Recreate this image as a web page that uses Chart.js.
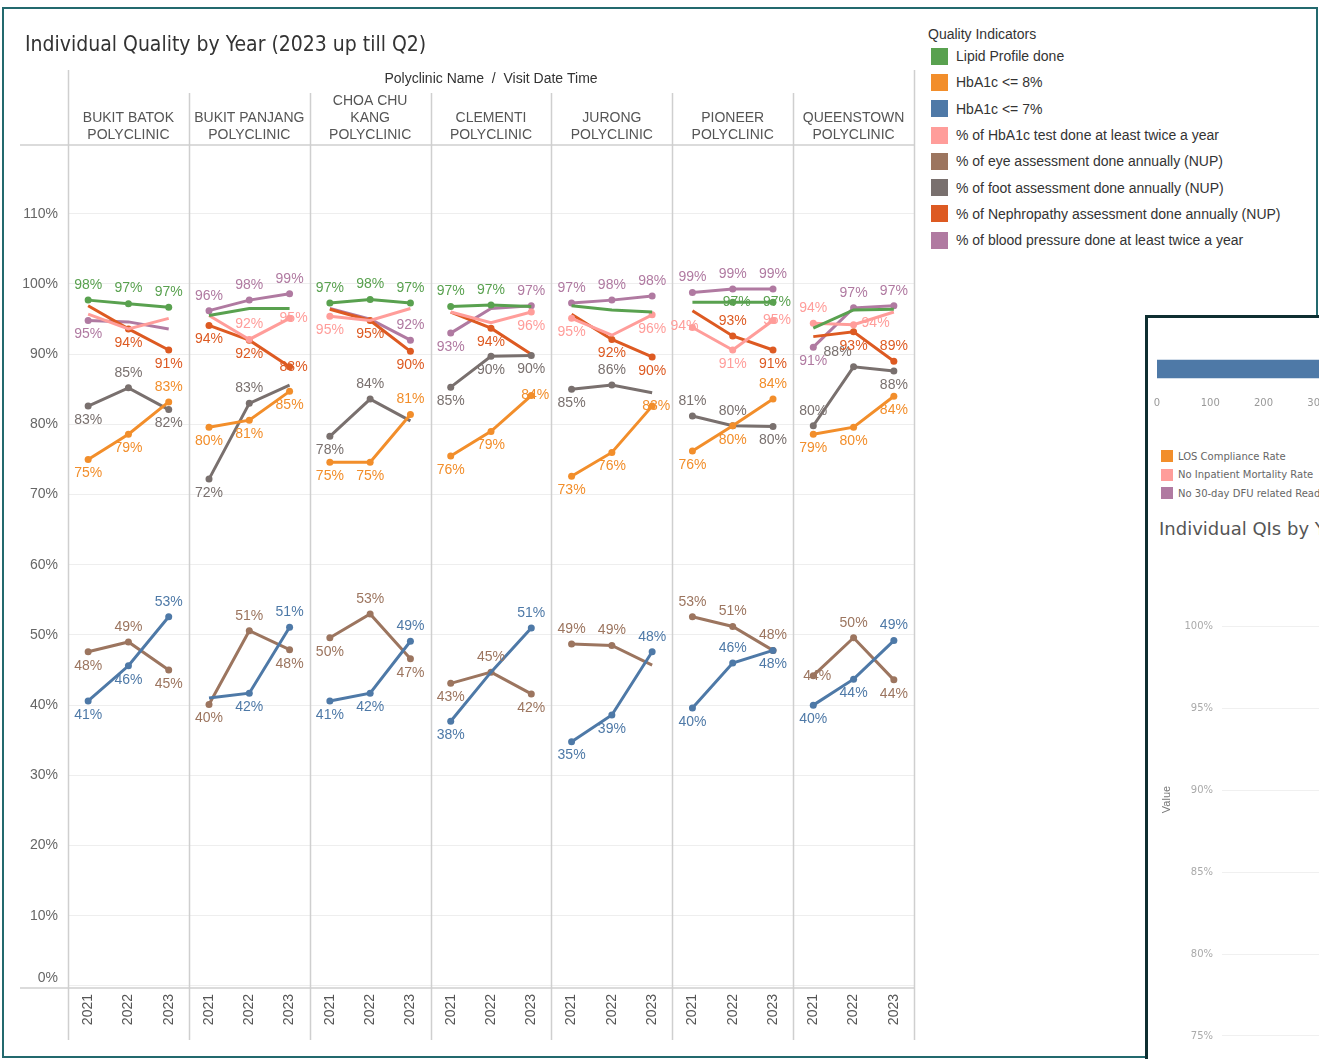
<!DOCTYPE html>
<html>
<head>
<meta charset="utf-8">
<title>Individual Quality by Year</title>
<script src="https://cdn.jsdelivr.net/npm/chart.js@4.4.0/dist/chart.umd.min.js"></script>
<style>
  body { margin: 0; width: 1319px; height: 1059px; overflow: hidden; background: #fff; position: relative;
         font-family: 'Liberation Sans', Arial, sans-serif; }
  #frame { position: absolute; left: 2px; top: 7px; width: 1312px; height: 1047px; border: 2px solid #23696e; }
  #qiChart { position: absolute; left: 0; top: 0; }
  #title { position: absolute; left: 25px; top: 32px; font-family: 'Liberation Sans Narrow', 'DejaVu Sans Condensed', sans-serif;
           font-size: 21px; color: #333; white-space: nowrap; }
  #legend { position: absolute; left: 928px; top: 25px; font-size: 14px; color: #333; }
  #legend .head { height: 18px; line-height: 18px; }
  #legend .item { height: 26.3px; display: flex; align-items: center; white-space: nowrap; }
  #legend .sw { width: 17px; height: 17px; margin: 0 8px 0 3px; }
  #other { position: absolute; left: 1145px; top: 315px; width: 400px; height: 800px; border: 3px solid #0e2f31;
           background: #fff; overflow: hidden; }
  #other canvas { position: absolute; left: 0; }
  #otherLegend { position: absolute; left: 13px; top: 129px; font-family: 'DejaVu Sans', sans-serif; font-size: 10px; color: #666; }
  #otherLegend .item { height: 18.5px; display: flex; align-items: center; white-space: nowrap; }
  #otherLegend .sw { width: 12px; height: 12px; margin-right: 5px; }
  #otherTitle { position: absolute; left: 11px; top: 200px; font-family: 'DejaVu Sans', sans-serif; font-size: 18px; color: #555; white-space: nowrap; }
</style>
</head>
<body>
<div id="frame"></div>
<canvas id="qiChart" width="920" height="1059"></canvas>
<div id="title">Individual Quality by Year (2023 up till Q2)</div>
<div id="legend"></div>
<div id="other">
  <canvas id="countChart" width="500" height="115" style="top:0"></canvas>
  <div id="otherLegend"></div>
  <div id="otherTitle">Individual QIs by Year</div>
  <canvas id="qiYearChart" width="500" height="519" style="top:222px"></canvas>
</div>

<script>
// polyclinic columns, each split into header lines
var clinics = [
  ['BUKIT BATOK', 'POLYCLINIC'],
  ['BUKIT PANJANG', 'POLYCLINIC'],
  ['CHOA CHU', 'KANG', 'POLYCLINIC'],
  ['CLEMENTI', 'POLYCLINIC'],
  ['JURONG', 'POLYCLINIC'],
  ['PIONEER', 'POLYCLINIC'],
  ['QUEENSTOWN', 'POLYCLINIC']
];
var years = ['2021', '2022', '2023'];
var yTicks = [0, 10, 20, 30, 40, 50, 60, 70, 80, 90, 100, 110];

var seriesNames = [
  'Lipid Profile done',
  'HbA1c <= 8%',
  'HbA1c <= 7%',
  '% of HbA1c test done at least twice a year',
  '% of eye assessment done annually (NUP)',
  '% of foot assessment done annually (NUP)',
  '% of Nephropathy assessment done annually (NUP)',
  '% of blood pressure done at least twice a year'
];
var seriesColors = ['#59a14f', '#f28e2b', '#4e79a7', '#ff9d9a', '#9c755f', '#79706e', '#dd5a22', '#b07aa1'];

// values per clinic, 2021 / 2022 / 2023 (%)
var lipid      = [97.7, 97.2, 96.7,  95.5, 96.5, 96.5,  97.3, 97.8, 97.3,  96.8, 97.0, 96.8,  96.9, 96.3, 96.0,  97.4, 97.4, 97.4,  93.7, 96.3, 96.4];
var hba1c8     = [75.0, 78.6, 83.2,  79.6, 80.6, 84.7,  74.6, 74.6, 81.4,  75.5, 79.0, 84.1,  72.6, 76.0, 82.6,  76.2, 79.8, 83.6,  78.6, 79.6, 84.0];
var hba1c7     = [40.6, 45.6, 52.6,  41.0, 41.7, 51.1,  40.6, 41.7, 49.1,  37.7, 44.7, 51.0,  34.8, 38.6, 47.6,  39.6, 46.0, 47.8,  40.0, 43.7, 49.2];
var hba1cTwice = [95.7, 93.6, 95.1,  95.5, 92.1, 95.1,  95.4, 94.8, 96.5,  96.0, 94.5, 96.0,  95.1, 92.7, 95.6,  93.8, 90.6, 94.8,  94.4, 94.2, 96.0];
var eyeCheck   = [47.6, 49.0, 45.0,  40.1, 50.6, 47.9,  49.6, 53.0, 46.6,  43.1, 44.7, 41.6,  48.7, 48.5, 45.7,  52.6, 51.2, 47.8,  44.2, 49.6, 43.6];
var footCheck  = [82.6, 85.2, 82.1,  72.2, 83.0, 85.6,  78.3, 83.6, 80.5,  85.3, 89.7, 89.8,  85.0, 85.6, 84.5,  81.2, 79.8, 79.7,  79.8, 88.2, 87.6];
var nephro     = [96.9, 93.6, 90.6,  94.1, 92.0, 88.2,  96.4, 94.8, 90.4,  96.0, 93.7, 90.0,  95.7, 92.1, 89.6,  96.2, 92.6, 90.6,  92.5, 93.2, 89.0];
var bpTwice    = [94.8, 94.6, 93.6,  96.2, 97.7, 98.6,  96.5, 95.0, 92.0,  93.0, 96.5, 96.9,  97.3, 97.7, 98.3,  98.8, 99.3, 99.3,  91.0, 96.6, 96.9];

var seriesValues = [lipid, hba1c8, hba1c7, hba1cTwice, eyeCheck, footCheck, nephro, bpTwice];

// which marks carry a label: a = above, b = below, c = on the mark, l / r / q = beside it, - = none
var labelPlacement = [
  'aaa' + '---' + 'aaa' + 'aa-' + '---' + '-cc' + '---',
  'bba' + 'bbb' + 'bba' + 'bbc' + 'bbc' + 'bba' + 'bbb',
  'bba' + '-ba' + 'bba' + 'b-a' + 'bba' + 'bab' + 'bba',
  '---' + '-ac' + 'b--' + '--b' + 'b-b' + 'lbc' + 'ar-',
  'bab' + 'bab' + 'bab' + 'bab' + 'aa-' + 'aaa' + 'cab',
  'bab' + 'ba-' + 'ba-' + 'bbb' + 'ba-' + 'aab' + 'aqb',
  '-bb' + 'bbc' + '-bb' + '-b-' + '-bb' + '-ab' + '-ba',
  'b--' + 'aaa' + '--a' + 'b-a' + 'aaa' + 'aaa' + 'baa'
];
var labelOffsets = { a: [0, -15], b: [0, 14], c: [4, 0], l: [-8, -1], r: [22, -2], q: [-16, -15] };

var FONT = "'Liberation Sans', Arial, sans-serif";
Chart.defaults.font.family = FONT;

// x categories: three years under every clinic
var xLabels = [];
clinics.forEach(function() { years.forEach(function(y) { xLabels.push(y); }); });

// one dataset per indicator per clinic so lines break between clinic columns
var datasets = [];
seriesValues.forEach(function(values, s) {
  clinics.forEach(function(c, ci) {
    var data = xLabels.map(function() { return null; });
    for (var k = 0; k < 3; k++) data[ci * 3 + k] = values[ci * 3 + k];
    var placement = labelPlacement[s];
    datasets.push({
      label: seriesNames[s],
      data: data,
      placement: placement,
      borderColor: seriesColors[s],
      backgroundColor: seriesColors[s],
      borderWidth: 3,
      tension: 0,
      pointRadius: function(ctx) { return placement[ctx.dataIndex] !== '-' ? 3.5 : 0; },
      pointHoverRadius: 0,
      pointBorderWidth: 0
    });
  });
});

var panelFrame = {
  id: 'panelFrame',
  beforeDatasetsDraw: function(chart) {
    var ctx = chart.ctx, a = chart.chartArea;
    var w = (a.right - a.left) / clinics.length;
    ctx.save();
    ctx.strokeStyle = '#cfcfcf';
    ctx.lineWidth = 1.5;
    ctx.beginPath();
    ctx.moveTo(20, a.top); ctx.lineTo(a.right, a.top);
    ctx.moveTo(20, a.bottom); ctx.lineTo(a.right, a.bottom);
    for (var k = 0; k <= clinics.length; k++) {
      var x = Math.round(a.left + k * w) + 0.5;
      var top = (k === 0 || k === clinics.length) ? 70 : 93;
      ctx.moveTo(x, top); ctx.lineTo(x, 1040);
    }
    ctx.stroke();

    ctx.textAlign = 'center';
    ctx.textBaseline = 'middle';
    ctx.fillStyle = '#333';
    ctx.font = '14px ' + FONT;
    ctx.fillText('Polyclinic Name  /  Visit Date Time', (a.left + a.right) / 2, 79);
    ctx.fillStyle = '#555';
    clinics.forEach(function(lines, ci) {
      var cx = a.left + (ci + 0.5) * w;
      lines.forEach(function(t, li) {
        ctx.fillText(t, cx, 135 - (lines.length - 1 - li) * 17);
      });
    });

    // the bottom tick label sits just inside the pane
    ctx.textAlign = 'right';
    ctx.fillStyle = '#666';
    ctx.fillText(yTicks[0] + '%', a.left - 10, a.bottom - 10);
    ctx.restore();
  }
};

var pointLabels = {
  id: 'pointLabels',
  afterDatasetsDraw: function(chart) {
    var ctx = chart.ctx;
    ctx.save();
    ctx.font = '14px ' + FONT;
    ctx.textAlign = 'center';
    ctx.textBaseline = 'middle';
    chart.data.datasets.forEach(function(ds, di) {
      var meta = chart.getDatasetMeta(di);
      ds.data.forEach(function(v, i) {
        if (v === null || ds.placement[i] === '-') return;
        var pt = meta.data[i], off = labelOffsets[ds.placement[i]];
        ctx.fillStyle = ds.borderColor;
        ctx.fillText(Math.round(v) + '%', pt.x + off[0], pt.y + off[1]);
      });
    });
    ctx.restore();
  }
};

new Chart(document.getElementById('qiChart'), {
  type: 'line',
  data: { labels: xLabels, datasets: datasets },
  options: {
    responsive: false,
    animation: false,
    devicePixelRatio: 1,
    layout: { padding: { top: 145, right: 6, left: 0, bottom: 0 } },
    plugins: { legend: { display: false }, tooltip: { enabled: false } },
    scales: {
      x: {
        type: 'category',
        offset: true,
        grid: { display: false },
        border: { display: false },
        ticks: { minRotation: 90, maxRotation: 90, autoSkip: false, padding: -2, color: '#555', font: { size: 14 } },
        afterFit: function(s) { s.height = 71; }
      },
      y: {
        min: -0.3,
        max: 119.8,
        grid: { color: '#eeeeee', drawTicks: false },
        border: { display: false },
        ticks: { padding: 10, font: { size: 14 },
                 color: function(c) { return c.tick && c.tick.value === 0 ? 'rgba(0,0,0,0)' : '#666'; },
                 callback: function(v) { return v + '%'; } },
        afterBuildTicks: function(s) { s.ticks = yTicks.map(function(v) { return { value: v }; }); },
        afterFit: function(s) { s.width = 68; }
      }
    }
  },
  plugins: [panelFrame, pointLabels]
});

// legend
var legend = document.getElementById('legend');
var html = '<div class="head">Quality Indicators</div>';
seriesNames.forEach(function(n, i) {
  html += '<div class="item"><span class="sw" style="background:' + seriesColors[i] + '"></span>' +
          n.replace(/</g, '&lt;') + '</div>';
});
legend.innerHTML = html;

// neighbouring dashboard sheet, partly covering the right edge
var countLabels = ['Patients'];
var countValues = [620];
new Chart(document.getElementById('countChart'), {
  type: 'bar',
  data: { labels: countLabels, datasets: [{ data: countValues, backgroundColor: '#4e79a7', barThickness: 18 }] },
  options: {
    indexAxis: 'y',
    responsive: false, animation: false, devicePixelRatio: 1,
    layout: { padding: { top: 33, left: 9, right: 0, bottom: 0 } },
    plugins: { legend: { display: false }, tooltip: { enabled: false } },
    scales: {
      x: {
        min: 0,
        max: 900,
        grid: { display: false },
        border: { display: false },
        ticks: { stepSize: 100, padding: 2, color: '#999', font: { family: 'DejaVu Sans', size: 10 } },
        title: { display: true, text: 'Distinct count of Patient', color: '#555', padding: { top: 0, bottom: 6 },
                 font: { family: 'DejaVu Sans', size: 10, weight: 'bold' } },
        afterFit: function(s) { s.height = 46; }
      },
      y: { display: false }
    }
  }
});

var otherNames = ['LOS Compliance Rate', 'No Inpatient Mortality Rate', 'No 30-day DFU related Readmission Rate'];
var otherColors = ['#f28e2b', '#ff9d9a', '#b07aa1'];
document.getElementById('otherLegend').innerHTML = otherNames.map(function(n, i) {
  return '<div class="item"><span class="sw" style="background:' + otherColors[i] + '"></span>' + n + '</div>';
}).join('');

var otherYears = ['2021', '2022', '2023'];
new Chart(document.getElementById('qiYearChart'), {
  type: 'line',
  data: { labels: otherYears, datasets: [] },
  options: {
    responsive: false, animation: false, devicePixelRatio: 1,
    layout: { padding: { top: 7, left: 0, right: 0, bottom: 0 } },
    plugins: { legend: { display: false }, tooltip: { enabled: false } },
    scales: {
      x: { display: false },
      y: {
        min: 74.51,
        max: 104.34,
        grid: { color: '#f0f0f0', drawTicks: false },
        border: { display: false },
        ticks: { stepSize: 5, includeBounds: false, padding: 9, color: '#aaa', font: { family: 'DejaVu Sans', size: 10 },
                 callback: function(v) { return v + '%'; } },
        title: { display: true, text: 'Value', color: '#777', padding: { top: 12, bottom: 0 }, font: { size: 11 } },
        afterFit: function(s) { s.width = 74; }
      }
    }
  }
});
</script>
</body>
</html>
